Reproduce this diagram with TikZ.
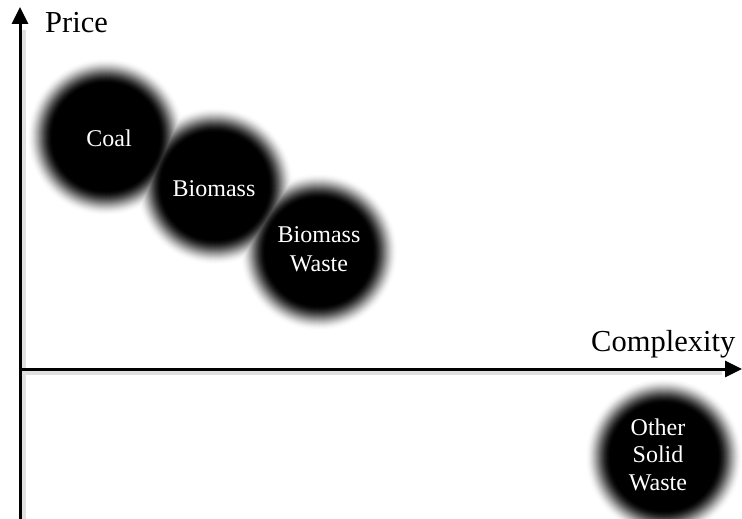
\documentclass[tikz,border=0pt]{standalone}
\usepackage{fontspec}
\setmainfont{Liberation Serif}
\usetikzlibrary{arrows.meta}
\tikzset{
  lbl/.style={text=white, font=\fontsize{24}{28}\selectfont, inner sep=0pt, align=center},
  axlbl/.style={text=black, font=\fontsize{30.5}{36}\selectfont, inner sep=0pt},
  axis/.style={line width=3pt, -{Triangle[length=17pt,width=16pt]}},
  axshadow/.style={line width=5pt, black!12},
}
\begin{document}
\begin{tikzpicture}[x=1pt,y=-1pt]
\useasboundingbox (0,0) rectangle (742,519);
% circle centres
\coordinate (coal) at (106,137);
\coordinate (biomass) at (215,186);
\coordinate (bwaste) at (319,252);
\coordinate (osw) at (664,457);
% blurred discs: rings from outside in, all discs per step
\foreach \r in {79,78.5,...,53} {
  \pgfmathsetmacro\t{(\r-53)/26}
  \pgfmathsetmacro\p{100*(1-(3*\t*\t-2*\t*\t*\t))}
  \foreach \c in {coal,biomass,bwaste,osw}
    \fill[black!\p] (\c) circle (\r);
}
% labels
\node[lbl, anchor=base] (tcoal) at (109,146) {Coal};
\node[lbl, anchor=base] (tbiomass) at (214,196) {Biomass};
\node[lbl, anchor=base] (tbw1) at (319,242) {Biomass};
\node[lbl, anchor=base] (tbw2) at (319,271) {Waste};
\node[lbl, anchor=base] (to1) at (658,435) {Other};
\node[lbl, anchor=base] (to2) at (658,462) {Solid};
\node[lbl, anchor=base] (to3) at (658,490) {Waste};
% axes
\coordinate (o) at (20,369);
\coordinate (ytop) at (20,7);
\coordinate (ybot) at (20,519);
\coordinate (xr) at (742,369);
\coordinate (os) at (23.5,372.5);
\coordinate (ytops) at (23.5,30);
\coordinate (ybots) at (23.5,519);
\coordinate (xrs) at (722,372.5);
\draw[axshadow] (ybots) -- (ytops);
\draw[axshadow] (os) -- (xrs);
\draw[axis] (ybot) -- (ytop);
\draw[axis] (o) -- (xr);
\node[axlbl, anchor=base west] (price) at (45,33) {Price};
\node[axlbl, anchor=base west] (complexity) at (591,351) {Complexity};
\end{tikzpicture}
\end{document}
